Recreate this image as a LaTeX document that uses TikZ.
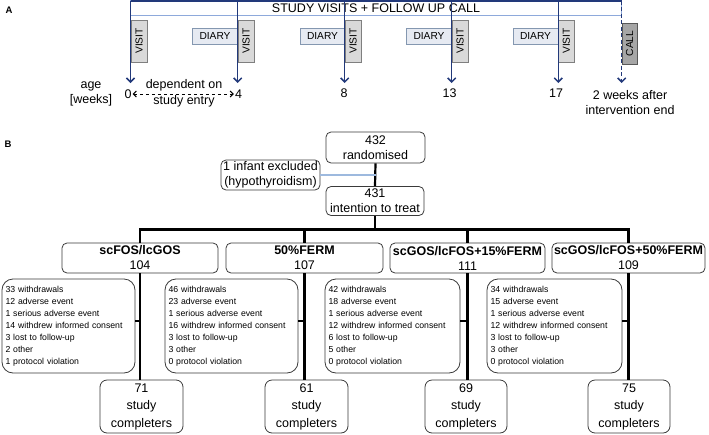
\documentclass[tikz,border=0pt]{standalone}
\usepackage{fontspec}
\setmainfont{Liberation Sans}
\usetikzlibrary{arrows.meta}
\definecolor{navy}{HTML}{22397A}
\definecolor{lineblue}{HTML}{8EA9DB}
\definecolor{exblue}{HTML}{9DB9DE}
\definecolor{visitfill}{HTML}{D9D9D9}
\definecolor{visitdraw}{HTML}{7F7F7F}
\definecolor{diaryfill}{HTML}{E6EAF2}
\definecolor{diarydraw}{HTML}{8497B0}
\definecolor{callfill}{HTML}{A6A6A6}
\definecolor{calldraw}{HTML}{595959}
\definecolor{boxdraw}{HTML}{3A3A3A}
\tikzset{
  bigfont/.style={font=\fontsize{12.5}{15}\selectfont},
  visitbox/.style={draw=visitdraw, fill=visitfill, line width=0.8pt, rotate=90, minimum width=42pt, minimum height=16pt, inner sep=0pt, font=\fontsize{10.2}{12}\selectfont},
  diarybox/.style={draw=diarydraw, fill=diaryfill, line width=0.8pt, minimum height=16pt, inner sep=0pt, font=\fontsize{10.2}{12}\selectfont},
  callbox/.style={draw=calldraw, fill=callfill, line width=0.8pt, rotate=90, minimum width=41pt, minimum height=15pt, inner sep=0pt, font=\fontsize{10.2}{12}\selectfont},
  timeline/.style={draw=navy, line width=1.5pt, -{Straight Barb[length=4pt,width=8pt]}},
  plainlabel/.style={bigfont, align=center, inner sep=0pt},
  flowbox/.style={draw=boxdraw, line width=0.8pt, rounded corners=5pt, bigfont, align=center, inner sep=0pt},
  detailbox/.style={draw=boxdraw, line width=0.8pt, rounded corners=11pt, minimum height=94pt, inner xsep=3.5pt, inner ysep=0pt, font=\fontsize{8.7}{12}\selectfont, align=left},
  compbox/.style={draw=boxdraw, line width=0.8pt, rounded corners=7pt, minimum width=83pt, minimum height=53pt, inner sep=0pt, font=\fontsize{12.5}{17.5}\selectfont, align=center},
  conn/.style={draw=black, line width=2.2pt},
}
\begin{document}
\begin{tikzpicture}[x=1pt,y=-1pt]
\useasboundingbox (0,0) rectangle (709,434);

% ---------- Panel A ----------
\node[font=\fontsize{9.5}{11}\selectfont\bfseries, inner sep=0pt] (labA) at (9,10) {A};
\node[font=\fontsize{9.5}{11}\selectfont\bfseries, inner sep=0pt] (labB) at (8,144) {B};

\draw[draw=lineblue, line width=1pt] (130.5,0.8) rectangle (621.7,15);
\draw[draw=navy, line width=1.4pt] (130.5,0.8) -- (621.7,0.8);
\node[plainlabel] (title) at (376,8) {STUDY VISITS + FOLLOW UP CALL};

% diary boxes
\node[diarybox, minimum width=46pt] (dia1) at (215,36) {DIARY};
\node[diarybox, minimum width=45pt] (dia2) at (322.5,36) {DIARY};
\node[diarybox, minimum width=46pt] (dia3) at (429,36) {DIARY};
\node[diarybox, minimum width=45pt] (dia4) at (535.5,36) {DIARY};

% visit boxes
\node[visitbox] (vis1) at (139,41) {VISIT};
\node[visitbox] (vis2) at (246,41) {VISIT};
\node[visitbox] (vis3) at (353,41) {VISIT};
\node[visitbox] (vis4) at (460,41) {VISIT};
\node[visitbox] (vis5) at (566.3,41) {VISIT};
\node[callbox] (call) at (629.5,43.5) {CALL};

% timeline arrows
\coordinate (t1) at (130.5,0.5);  \coordinate (b1) at (130.5,83);
\coordinate (t2) at (237.7,0.5);  \coordinate (b2) at (237.7,83);
\coordinate (t3) at (344.7,0.5);  \coordinate (b3) at (344.7,83);
\coordinate (t4) at (451.7,0.5);  \coordinate (b4) at (451.7,83);
\coordinate (t5) at (558.3,0.5);  \coordinate (b5) at (558.3,83);
\coordinate (t6) at (621.7,0.5);  \coordinate (b6) at (621.7,83);
\draw[timeline] (t1) -- (b1);
\draw[timeline] (t2) -- (b2);
\draw[timeline] (t3) -- (b3);
\draw[timeline] (t4) -- (b4);
\draw[timeline] (t5) -- (b5);
\draw[timeline, dashed, dash pattern=on 4pt off 2.5pt] (t6) -- (b6);

% labels
\node[plainlabel] (age) at (91,94) {age\\[0pt][weeks]};
\node[plainlabel] (w0) at (128,94) {0};
\node[plainlabel] (w4) at (238.5,94) {4};
\node[plainlabel] (w8) at (344,93.5) {8};
\node[plainlabel] (w13) at (449.5,93) {13};
\node[plainlabel] (w17) at (556,93.5) {17};
\node[plainlabel] (wend) at (630,102.5) {2 weeks after\\intervention end};
\node[plainlabel, font=\fontsize{12.5}{16.5}\selectfont] (dep) at (184,93.5) {dependent on\\study entry};
\draw[black, line width=1pt, dashed, dash pattern=on 3.5pt off 2.5pt, {Straight Barb[length=3pt,width=6pt]}-{Straight Barb[length=3pt,width=6pt]}] ([xshift=1pt]w0.east) -- ([xshift=-1pt]w4.west);

% ---------- Panel B ----------
\node[flowbox, minimum width=99pt, minimum height=31pt] (rand) at (375.5,147.5) {432\\randomised};
\node[flowbox, minimum width=99pt, minimum height=30pt] (excl) at (270.5,175) {1 infant excluded\\(hypothyroidism)};
\node[flowbox, minimum width=98pt, minimum height=29pt] (itt) at (375,201) {431\\intention to treat};

\node[flowbox, minimum width=156pt, minimum height=30pt] (g1) at (140,258) {\textbf{scFOS/lcGOS}\\104};
\node[flowbox, minimum width=157pt, minimum height=30pt] (g2) at (304.5,258) {\textbf{50\%FERM}\\107};
\node[flowbox, minimum width=155pt, minimum height=30pt] (g3) at (467.5,258) {\textbf{scGOS/lcFOS+15\%FERM}\\111};
\node[flowbox, minimum width=153pt, minimum height=30pt] (g4) at (628.5,258) {\textbf{scGOS/lcFOS+50\%FERM}\\109};

\node[detailbox, minimum width=133pt, text width=126pt] (d1) at (68.5,326) {33 withdrawals\\12 adverse event\\1 serious adverse event\\14 withdrew informed consent\\3 lost to follow-up\\2 other\\1 protocol violation};
\node[detailbox, minimum width=133pt, text width=126pt] (d2) at (231.5,326) {46 withdrawals\\23 adverse event\\1 serious adverse event\\16 withdrew informed consent\\3 lost to follow-up\\3 other\\0 protocol violation};
\node[detailbox, minimum width=135pt, text width=128pt] (d3) at (392.5,326) {42 withdrawals\\18 adverse event\\1 serious adverse event\\12 withdrew informed consent\\6 lost to follow-up\\5 other\\0 protocol violation};
\node[detailbox, minimum width=135pt, text width=128pt] (d4) at (554.5,326) {34 withdrawals\\15 adverse event\\1 serious adverse event\\12 withdrew informed consent\\3 lost to follow-up\\3 other\\0 protocol violation};

\node[compbox] (c1) at (141.5,406.5) {71\\study\\completers};
\node[compbox] (c2) at (306.5,406.5) {61\\study\\completers};
\node[compbox, minimum width=82pt] (c3) at (466,406.5) {69\\study\\completers};
\node[compbox, minimum width=82pt] (c4) at (629,406.5) {75\\study\\completers};

% connectors
\coordinate (bus) at (375,229.5);
\draw[conn] (rand.south) -- (itt.north);
\draw[draw=exblue, line width=1.2pt] (excl.east) -- (excl.east -| rand.south);
\draw[conn] (itt.south) -- (itt.south |- bus);
\draw[conn, line cap=rect] (g1.north |- bus) -- (g4.north |- bus);
\draw[conn] (g1.north |- bus) -- (g1.north);
\draw[conn] (g2.north |- bus) -- (g2.north);
\draw[conn] (g3.north |- bus) -- (g3.north);
\draw[conn] (g4.north |- bus) -- (g4.north);
\draw[conn] (g1.south) -- (g1.south |- c1.north);
\draw[conn] (g2.south) -- (g2.south |- c2.north);
\draw[conn] (g3.south) -- (g3.south |- c3.north);
\draw[conn] (g4.south) -- (g4.south |- c4.north);
\draw[conn] ([yshift=5pt]d1.east) -- ([yshift=5pt]d1.east -| g1.south);
\draw[conn] ([yshift=5pt]d2.east) -- ([yshift=5pt]d2.east -| g2.south);
\draw[conn] ([yshift=5pt]d3.east) -- ([yshift=5pt]d3.east -| g3.south);
\draw[conn] ([yshift=5pt]d4.east) -- ([yshift=5pt]d4.east -| g4.south);
\end{tikzpicture}
\end{document}
